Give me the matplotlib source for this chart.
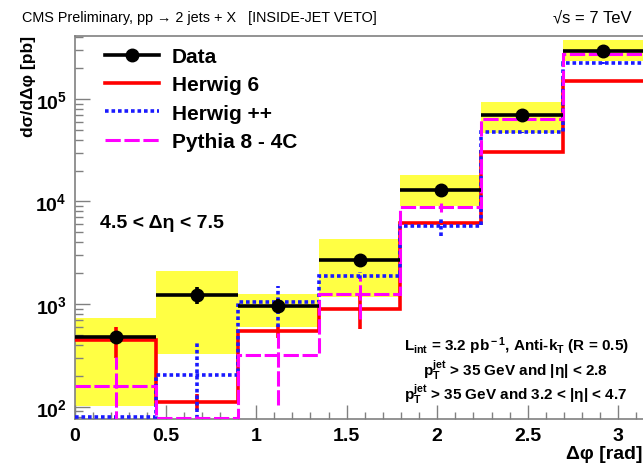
import numpy as np
import matplotlib
matplotlib.use("Agg")
import matplotlib.pyplot as plt
from matplotlib.lines import Line2D
from matplotlib.ticker import FixedLocator, MultipleLocator, NullFormatter

plt.rcParams['font.family'] = ['Liberation Sans', 'DejaVu Sans']
plt.rcParams['mathtext.fontset'] = 'custom'
plt.rcParams['mathtext.rm'] = 'Liberation Sans:bold'
plt.rcParams['mathtext.bf'] = 'Liberation Sans:bold'
plt.rcParams['mathtext.it'] = 'Liberation Sans:bold'
plt.rcParams['mathtext.default'] = 'rm'

# ---- data ----
bin_edges = np.linspace(0, np.pi, 8)
data_vals = [474, 1235, 964, 2710, 13000, 69700, 295000]
data_err = [70, 240, 150, 200, 500, 1500, 5000]
sys_lo = [102, 326, 594, 1165, 8980, 46600, 235000]
sys_hi = [728, 2120, 1254, 4300, 18100, 94000, 378000]

herwig6 = [450, 112, 551, 896, 6170, 30100, 150000]
herwig6_err = [150, 20, 80, 330, 300, 700, 2000]
herwigpp = [80, 204, 1054, 1890, 5810, 47200, 224000]
herwigpp_err = [5, 236, 460, 150, 1160, 800, 3000]
pythia8 = [160, 77, 319, 1254, 8770, 63700, 274000]
pythia8_err = [145, 5, 215, 540, 900, 1500, 4000]

legend_labels = ["Data", "Herwig 6", "Herwig ++", "Pythia 8 - 4C"]

W, H = 643, 464
fig = plt.figure(figsize=(W / 100, H / 100), dpi=100)
ax = fig.add_axes([75 / W, 1 - 420 / H, (644 - 75) / W, (420 - 37.3) / H])

centers = 0.5 * (bin_edges[:-1] + bin_edges[1:])
widths = np.diff(bin_edges)

ax.set_yscale('log')
ax.set_xlim(0, np.pi)
ax.set_ylim(75.9, 4.07e5)

# yellow systematic band
ax.bar(bin_edges[:-1], np.array(sys_hi) - np.array(sys_lo), bottom=sys_lo,
       width=widths, align='edge', color='#ffff44', edgecolor='none', zorder=1)

styles = [
    (herwig6, herwig6_err, '#ff0000', '-', 2.6),
    (herwigpp, herwigpp_err, '#1a1aff', (0, (1, 0.8)), 2.6),
    (pythia8, pythia8_err, '#ff00ff', (0, (5, 1.2)), 2.2),
]
for z, (vals, errs, col, ls, lw) in enumerate(styles):
    ax.stairs(vals, bin_edges, color=col, linestyle=ls, linewidth=lw,
              baseline=None, zorder=3 + z)
    v = np.array(vals, float)
    e = np.array(errs, float)
    ax.vlines(centers, np.maximum(v - e, 1.0), v + e, color=col,
              linestyle=ls, linewidth=lw, zorder=3 + z)

ax.errorbar(centers, data_vals, yerr=data_err, xerr=widths / 2, fmt='o',
            color='black', markersize=9, elinewidth=2.6, capsize=0, zorder=10)

# ticks
for s in ['left', 'top', 'bottom']:
    ax.spines[s].set_color('#808080')
    ax.spines[s].set_linewidth(1.2)
ax.spines['right'].set_visible(False)
ax.tick_params(axis='both', which='both', direction='in', color='#808080',
               width=1.0)
ax.tick_params(axis='y', which='major', length=11, labelsize=14, pad=6)
ax.tick_params(axis='y', which='minor', length=5.5)
ax.tick_params(axis='x', which='major', length=10, labelsize=14, pad=6)
ax.tick_params(axis='x', which='minor', length=5)
ax.xaxis.set_major_locator(MultipleLocator(0.5))
ax.xaxis.set_minor_locator(MultipleLocator(0.1))
ax.xaxis.set_major_formatter(matplotlib.ticker.FuncFormatter(
    lambda x, p: ('%g' % x)))
ax.yaxis.set_major_locator(FixedLocator([1e2, 1e3, 1e4, 1e5]))
ax.yaxis.set_major_formatter(matplotlib.ticker.FuncFormatter(
    lambda y, p: r'$\mathbf{10^{%d}}$' % int(round(np.log10(y)))))
ax.yaxis.set_minor_locator(matplotlib.ticker.LogLocator(base=10, subs=np.arange(2, 10)))
ax.yaxis.set_minor_formatter(NullFormatter())
for lab in ax.get_xticklabels() + ax.get_yticklabels():
    lab.set_fontweight('bold')

# legend
handles = [
    Line2D([], [], color='black', marker='o', markersize=9, linewidth=2.6),
    Line2D([], [], color='#ff0000', linewidth=2.6),
    Line2D([], [], color='#1a1aff', linewidth=2.6, linestyle=(0, (1, 0.8))),
    Line2D([], [], color='#ff00ff', linewidth=2.2, linestyle=(0, (5, 1.2))),
]
leg = ax.legend(handles, legend_labels, loc='upper left',
                bbox_to_anchor=(105 / W, 1 - 48 / H),
                bbox_transform=fig.transFigure, frameon=False,
                prop={'weight': 'bold', 'size': 15}, handlelength=2.6,
                handletextpad=0.6, labelspacing=0.45, borderpad=0,
                borderaxespad=0)

# texts
fig.text(22 / W, 1 - 18 / H,
         'CMS Preliminary, pp \u2192 2 jets + X   [INSIDE-JET VETO]',
         fontsize=10.4, ha='left', va='center')
fig.text(553 / W, 1 - 18 / H, '\u221as = 7 TeV', fontsize=12,
         ha='left', va='center')
fig.text(28 / W, 1 - 86 / H, 'd\u03c3/d\u0394\u03c6 [pb]', rotation=90,
         fontsize=12.5, fontweight='bold', ha='center', va='center')
fig.text(643 / W, 1 - 455 / H, '\u0394\u03c6 [rad]', fontsize=14,
         fontweight='bold', ha='right', va='center')
fig.text(100 / W, 1 - 223 / H, '4.5 < \u0394\u03b7 < 7.5', fontsize=14,
         fontweight='bold', ha='left', va='center')
fig.text(516 / W, 1 - 346 / H,
         r'L$_{\rm int}$ = 3.2 pb$^{\rm -1}$, Anti-k$_{\rm T}$ (R = 0.5)',
         fontsize=11, fontweight='bold', ha='center', va='center')
fig.text(516 / W, 1 - 370 / H,
         r'p$_{\rm T}^{\rm jet}$ > 35 GeV and |' + '\u03b7' + '| < 2.8',
         fontsize=11, fontweight='bold', ha='center', va='center')
fig.text(516 / W, 1 - 394 / H,
         r'p$_{\rm T}^{\rm jet}$ > 35 GeV and 3.2 < |' + '\u03b7' + '| < 4.7',
         fontsize=11, fontweight='bold', ha='center', va='center')

fig.savefig('out.png', dpi=100)
